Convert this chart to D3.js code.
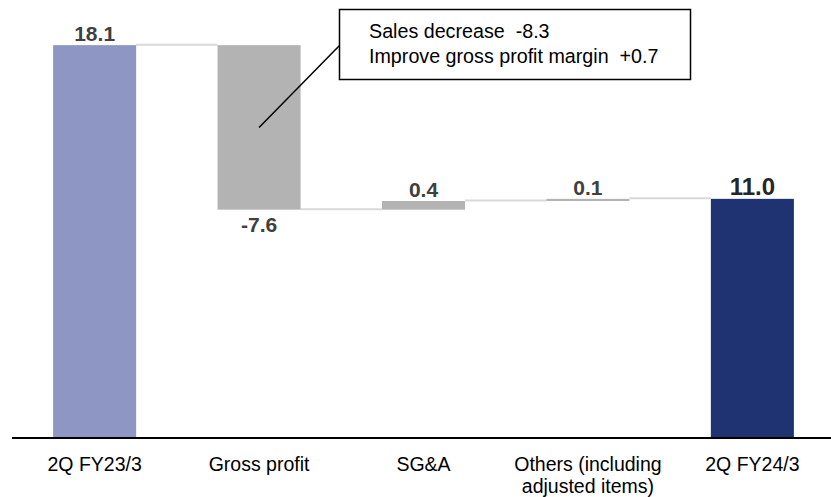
<!DOCTYPE html>
<html>
<head>
<meta charset="utf-8">
<script src="https://cdn.jsdelivr.net/npm/d3@7"></script>
<style>
  html, body { margin: 0; padding: 0; background: #fff; }
  svg { display: block; font-family: "Liberation Sans", Arial, sans-serif; }
</style>
</head>
<body>
<svg id="chart" width="831" height="497"></svg>
<script>
// Operating profit bridge (billion yen)
const categories = ["2Q FY23/3", "Gross profit", "SG&A", "Others (including\nadjusted items)", "2Q FY24/3"];
const changes = [18.1, -7.6, 0.4, 0.1, 11.0];
const kinds = ["total", "delta", "delta", "delta", "total"];
const valueLabels = ["18.1", "-7.6", "0.4", "0.1", "11.0"];
const noteLines = ["Sales decrease\u00a0\u00a0-8.3", "Improve gross profit margin\u00a0\u00a0+0.7"];

const svg = d3.select("#chart");

const x = d3.scaleBand()
  .domain(categories)
  .range([12, 835])
  .paddingInner(0.495)
  .paddingOuter(0.25);

const y = d3.scaleLinear().domain([0, 20]).range([437, 4]);

// running totals for the waterfall
let running = 0;
const bars = categories.map((c, i) => {
  let start, end;
  if (kinds[i] === "total") { start = 0; end = changes[i]; running = changes[i]; }
  else { start = running; end = running + changes[i]; running = end; }
  return { cat: c, start, end, value: changes[i], label: valueLabels[i], i };
});

const colors = ["#8e96c4", "#b3b3b3", "#b3b3b3", "#b3b3b3", "#1f3372"];

// connectors between consecutive bars
svg.append("g").selectAll("line")
  .data(bars.slice(0, -1))
  .join("line")
  .attr("x1", d => x(d.cat) + x.bandwidth())
  .attr("x2", (d, k) => x(bars[k + 1].cat))
  .attr("y1", d => y(d.end) - 0.5)
  .attr("y2", d => y(d.end) - 0.5)
  .attr("stroke", "#d9d9d9")
  .attr("stroke-width", 2);

// bars
svg.append("g").selectAll("rect")
  .data(bars)
  .join("rect")
  .attr("x", d => x(d.cat))
  .attr("width", x.bandwidth())
  .attr("y", d => y(Math.max(d.start, d.end)))
  .attr("height", d => Math.abs(y(d.start) - y(d.end)))
  .attr("fill", d => colors[d.i]);

// value labels
svg.append("g").selectAll("text")
  .data(bars)
  .join("text")
  .attr("x", d => x(d.cat) + x.bandwidth() / 2)
  .attr("y", d => d.value < 0 ? y(d.end) + 22 : y(Math.max(d.start, d.end)) - 4)
  .attr("text-anchor", "middle")
  .attr("font-weight", "bold")
  .attr("font-size", d => d.i === 4 ? 24 : 21)
  .attr("fill", d => d.i === 4 ? "#262626" : "#404040")
  .text(d => d.label);

// baseline axis
svg.append("line")
  .attr("x1", 12).attr("x2", 831)
  .attr("y1", y(0) + 1).attr("y2", y(0) + 1)
  .attr("stroke", "#000").attr("stroke-width", 2);

// category labels
const catG = svg.append("g");
categories.forEach(c => {
  const t = catG.append("text")
    .attr("x", x(c) + x.bandwidth() / 2)
    .attr("y", 471)
    .attr("text-anchor", "middle")
    .attr("font-size", 19.5)
    .attr("fill", "#000");
  c.split("\n").forEach((line, j) => {
    t.append("tspan")
      .attr("x", x(c) + x.bandwidth() / 2)
      .attr("dy", j === 0 ? 0 : 22)
      .text(line);
  });
});

// callout note for gross profit
const gp = bars[1];
const gpx = x(gp.cat) + x.bandwidth() / 2;
svg.append("line")
  .attr("x1", 340).attr("y1", 45)
  .attr("x2", gpx).attr("y2", y((gp.start + gp.end) / 2))
  .attr("stroke", "#000").attr("stroke-width", 1.5);

svg.append("rect")
  .attr("x", 339.5).attr("y", 9.5)
  .attr("width", 351).attr("height", 70)
  .attr("fill", "#fff")
  .attr("stroke", "#000").attr("stroke-width", 1.5);

svg.append("g").selectAll("text")
  .data(noteLines)
  .join("text")
  .attr("x", 369)
  .attr("y", (d, i) => 38 + i * 25)
  .attr("font-size", 19.7)
  .attr("fill", "#000")
  .text(d => d);
</script>
</body>
</html>
